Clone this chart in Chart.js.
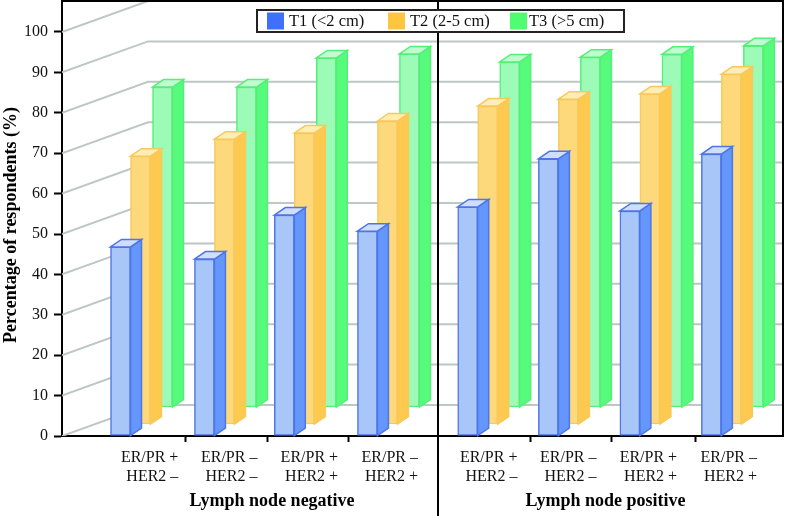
<!DOCTYPE html>
<html>
<head>
<meta charset="utf-8">
<style>
  html, body { margin: 0; background: #fff; }
  canvas { display: block; }
</style>
<script src="https://cdn.jsdelivr.net/npm/chart.js@4/dist/chart.umd.min.js"></script>
</head>
<body>
<canvas id="grafica" width="786" height="516"></canvas>
<script>
const categories = [
  ["ER/PR +", "HER2 –"], ["ER/PR –", "HER2 –"], ["ER/PR +", "HER2 +"], ["ER/PR –", "HER2 +"],
  ["ER/PR +", "HER2 –"], ["ER/PR –", "HER2 –"], ["ER/PR +", "HER2 +"], ["ER/PR –", "HER2 +"],
];
const groupNames = ["Lymph node negative", "Lymph node positive"];
const seriesNames = ["T1 (<2 cm)", "T2 (2-5 cm)", "T3 (>5 cm)"];
const t1Values = [46.8, 43.8, 54.7, 50.7, 56.7, 68.6, 55.7, 69.8];
const t2Values = [66.3, 70.5, 72, 75, 78.7, 80.4, 81.7, 86.6];
const t3Values = [79.2, 79.2, 86.4, 87.4, 85.4, 86.6, 87.3, 89.4];
const yTicks = [0, 10, 20, 30, 40, 50, 60, 70, 80, 90, 100];
// x slots of the bar groups (the middle gap is wider than the others)
const slots = [0, 1.03, 2.01, 3.03, 4.26, 5.25, 6.25, 7.25];
const labelSlots = [0.71, 1.68, 2.67, 3.65, 4.87, 5.84, 6.83, 7.81];
const markSlots = [0.8, 1.8, 2.8, 5.03, 6.02, 7.06];
const groupSlots = [1.86, 5.95];

const fuente = "'Liberation Serif', 'Times New Roman', serif";
const pxPorUnidad = 4.04;
const pxPorSlot = 81.5;
const ancho = 721;
const alto = 435;

// every row of bars sits further back, so it gets its own shifted scales
function escalaX(px) {
  const min = -(58.5 + px) / pxPorSlot;
  return { type: "linear", display: false, offset: false, bounds: "data", min: min, max: min + ancho / pxPorSlot };
}
function escalaY(px) {
  const min = -px / pxPorUnidad;
  return { display: false, bounds: "data", min: min, max: min + alto / pxPorUnidad, beginAtZero: false };
}
function puntos(valores) {
  return valores.map((v, i) => ({ x: slots[i], y: v }));
}

const estilos = [
  { swatch: "#3f6fff", front: "#a8c6f8", side: "#6496fc", top: "#cfdffb", border: "#4d76e6" },
  { swatch: "#fec63f", front: "#fdd97c", side: "#fdc94f", top: "#feeeb5", border: "#f7c85a" },
  { swatch: "#4dff70", front: "#9bfbb7", side: "#56fb7c", top: "#c0fcd0", border: "#55ef78" },
];

function poligono(ctx, pts, relleno, borde) {
  ctx.beginPath();
  pts.forEach((p, i) => (i ? ctx.lineTo(p[0], p[1]) : ctx.moveTo(p[0], p[1])));
  ctx.closePath();
  ctx.fillStyle = relleno;
  ctx.fill();
  ctx.lineWidth = 1.5;
  ctx.strokeStyle = borde;
  ctx.stroke();
}

const caras3d = {
  id: "caras3d",
  afterDatasetDraw(chart, args) {
    const ctx = chart.ctx;
    const e = estilos[args.index];
    const dx = 11, dy = -7.5;
    ctx.save();
    args.meta.data.forEach((bar) => {
      const x0 = bar.x - bar.width / 2;
      const x1 = bar.x + bar.width / 2;
      poligono(ctx, [[x1, bar.y], [x1 + dx, bar.y + dy], [x1 + dx, bar.base + dy], [x1, bar.base]], e.side, e.border);
      poligono(ctx, [[x0, bar.y], [x0 + dx, bar.y + dy], [x1 + dx, bar.y + dy], [x1, bar.y]], e.top, e.border);
    });
    ctx.restore();
  },
};

const paredes = {
  id: "paredes",
  beforeDatasetsDraw(chart) {
    const ctx = chart.ctx;
    const area = chart.chartArea;
    const y = chart.scales.y;
    ctx.save();
    ctx.beginPath();
    ctx.rect(area.left, area.top, area.width, area.height);
    ctx.clip();
    ctx.strokeStyle = "#bcc8c4";
    ctx.lineWidth = 2;
    yTicks.forEach((v) => {
      const py = y.getPixelForValue(v);
      ctx.beginPath();
      ctx.moveTo(area.left, py);
      ctx.lineTo(area.left + 86, py - 31);
      ctx.lineTo(area.right, py - 31);
      ctx.stroke();
    });
    ctx.restore();
  },
};

const marco = {
  id: "marco",
  afterDraw(chart) {
    const ctx = chart.ctx;
    const area = chart.chartArea;
    const x = chart.scales.x;
    ctx.save();
    ctx.strokeStyle = "#000";
    ctx.lineWidth = 2;
    ctx.beginPath();
    ctx.moveTo(area.left, 1);
    ctx.lineTo(area.right, 1);
    ctx.lineTo(area.right, area.bottom);
    ctx.moveTo(438, 0);
    ctx.lineTo(438, 516);
    ctx.stroke();

    // nombres de los grupos
    ctx.fillStyle = "#000";
    ctx.font = "bold 18px " + fuente;
    ctx.textAlign = "center";
    ctx.textBaseline = "middle";
    groupNames.forEach((n, i) => ctx.fillText(n, x.getPixelForValue(groupSlots[i]), 501));

    // titulo del eje y
    ctx.save();
    ctx.translate(11.5, 225);
    ctx.rotate(-Math.PI / 2);
    ctx.fillText("Percentage of respondents (%)", 0, 0);
    ctx.restore();

    // leyenda
    ctx.fillStyle = "#fff";
    ctx.fillRect(257, 10, 367, 22);
    ctx.strokeStyle = "#222";
    ctx.strokeRect(257, 10, 367, 22);
    const cajas = [267, 388, 510];
    const textos = [289, 410, 529];
    ctx.font = "16.5px " + fuente;
    ctx.textAlign = "left";
    seriesNames.forEach((n, i) => {
      ctx.fillStyle = estilos[i].swatch;
      ctx.fillRect(cajas[i], 12.5, 17, 17);
      ctx.fillStyle = "#111";
      ctx.fillText(n, textos[i], 22);
    });
    ctx.restore();
  },
};

function sinMargen(axis) {
  axis.paddingTop = axis.paddingBottom = axis.paddingLeft = axis.paddingRight = 0;
}

new Chart(document.getElementById("grafica"), {
  type: "bar",
  data: {
    datasets: [
      { label: seriesNames[0], data: puntos(t1Values), xAxisID: "x", yAxisID: "y",
        backgroundColor: estilos[0].front, borderColor: estilos[0].border },
      { label: seriesNames[1], data: puntos(t2Values), xAxisID: "x2", yAxisID: "y2",
        backgroundColor: estilos[1].front, borderColor: estilos[1].border },
      { label: seriesNames[2], data: puntos(t3Values), xAxisID: "x3", yAxisID: "y3",
        backgroundColor: estilos[2].front, borderColor: estilos[2].border },
    ],
  },
  options: {
    responsive: false,
    animation: false,
    grouped: false,
    barThickness: 20,
    borderWidth: 1.5,
    borderSkipped: false,
    layout: { autoPadding: false, padding: { top: 1, right: 3, left: 0, bottom: 0 } },
    plugins: { legend: { display: false }, tooltip: { enabled: false } },
    scales: {
      x: {
        type: "linear",
        offset: false,
        bounds: "data",
        min: -58.5 / pxPorSlot,
        max: -58.5 / pxPorSlot + ancho / pxPorSlot,
        afterBuildTicks(axis) {
          axis.ticks = labelSlots.concat(markSlots).map((v) => ({ value: v }));
        },
        afterFit(axis) {
          axis.height = 80;
          sinMargen(axis);
        },
        border: { display: true, color: "#000", width: 2 },
        grid: {
          offset: false,
          drawOnChartArea: false,
          tickLength: 6,
          tickWidth: 2,
          tickColor: (c) => (c.tick && c.tick.label !== "" ? "rgba(0,0,0,0)" : "#000"),
        },
        ticks: {
          autoSkip: false,
          maxRotation: 0,
          minRotation: 0,
          align: "end",
          padding: 6,
          color: "#111",
          font: { family: fuente, size: 16 },
          callback: (v, i) => categories[i] || "",
        },
      },
      y: {
        bounds: "data",
        min: 0,
        max: alto / pxPorUnidad,
        afterBuildTicks(axis) {
          axis.ticks = yTicks.map((v) => ({ value: v }));
        },
        afterFit(axis) {
          axis.width = 62;
          sinMargen(axis);
        },
        border: { display: true, color: "#000", width: 2 },
        grid: { drawOnChartArea: false, tickLength: 8, tickWidth: 2, tickColor: "#000" },
        ticks: { padding: 6, color: "#111", font: { family: fuente, size: 16 } },
      },
      x2: escalaX(20),
      x3: escalaX(42),
      y2: escalaY(12),
      y3: escalaY(29),
    },
  },
  plugins: [paredes, caras3d, marco],
});
</script>
</body>
</html>
